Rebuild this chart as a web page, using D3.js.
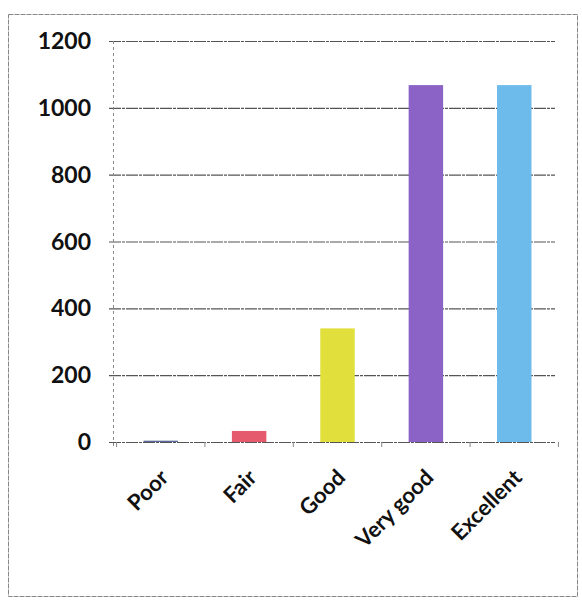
<!DOCTYPE html>
<html><head><meta charset="utf-8">
<script src="https://cdn.jsdelivr.net/npm/d3@7"></script>
<style>body{margin:0;background:#fff}svg{display:block}</style>
</head><body>
<svg id="c" width="582" height="600"></svg>
<script>
const categories = ["Poor", "Fair", "Good", "Very good", "Excellent"];
const values = [4, 33, 340, 1068, 1068];
const colors = ["#5a6a9a", "#e65a6e", "#e0df3c", "#8b62c6", "#6cbbea"];
const yTicks = [0, 200, 400, 600, 800, 1000, 1200];

const svg = d3.select("#c");
const W = 582, H = 600;
const m = {left: 117, right: 24, top: 41, bottom: 158};
const x = d3.scaleBand().domain(categories).range([m.left, W - m.right]).paddingInner(0.61).paddingOuter(0.3);
const y = d3.scaleLinear().domain([0, 1200]).range([H - m.bottom, m.top]);

// outer frame
svg.append("rect").attr("x", 8.5).attr("y", 14.5).attr("width", 569).attr("height", 582)
  .attr("fill", "none").attr("stroke", "#888").attr("stroke-width", 1).attr("stroke-dasharray", "5,1");

// gridlines
svg.append("g").selectAll("line").data(yTicks).join("line")
  .attr("x1", m.left - 8).attr("x2", W - m.right - 3)
  .attr("y1", d => y(d) + 0.5).attr("y2", d => y(d) + 0.5)
  .attr("stroke", "#555").attr("stroke-width", 1.1).attr("stroke-dasharray", "12,1,3,1");

// vertical axis line
svg.append("line").attr("x1", m.left - 3.5).attr("x2", m.left - 3.5)
  .attr("y1", y(1200)).attr("y2", y(0) + 4)
  .attr("stroke", "#888").attr("stroke-width", 1).attr("stroke-dasharray", "3,3");

// x ticks at band boundaries
const step = x.step();
const bounds = categories.map((c, i) => x(c) - (step - x.bandwidth()) / 2).concat([x(categories[4]) + x.bandwidth() + (step - x.bandwidth()) / 2]);
svg.append("g").selectAll("line").data(bounds).join("line")
  .attr("x1", d => d).attr("x2", d => d)
  .attr("y1", y(0)).attr("y2", y(0) + 5)
  .attr("stroke", "#888").attr("stroke-width", 1);

// bars
svg.append("g").selectAll("rect").data(values).join("rect")
  .attr("x", (d, i) => x(categories[i]))
  .attr("y", d => y(d))
  .attr("width", x.bandwidth())
  .attr("height", d => y(0) - y(d))
  .attr("fill", (d, i) => colors[i]);

// y labels
svg.append("g").selectAll("text").data(yTicks).join("text")
  .attr("x", 91).attr("y", d => y(d))
  .attr("dy", "0.35em").attr("text-anchor", "end")
  .attr("font-family", "Lato, 'Open Sans', sans-serif").attr("font-weight", "bold")
  .attr("font-size", 23).attr("fill", "#111")
  .text(d => d);

// x labels rotated
svg.append("g").selectAll("text").data(categories).join("text")
  .attr("transform", c => `translate(${x(c) + x.bandwidth() / 2 + 9},${y(0) + 37}) rotate(-45)`)
  .attr("text-anchor", "end")
  .attr("font-family", "Lato, 'Open Sans', sans-serif").attr("font-weight", "bold")
  .attr("font-size", 22).attr("fill", "#111")
  .text(c => c);
</script>
</body></html>
